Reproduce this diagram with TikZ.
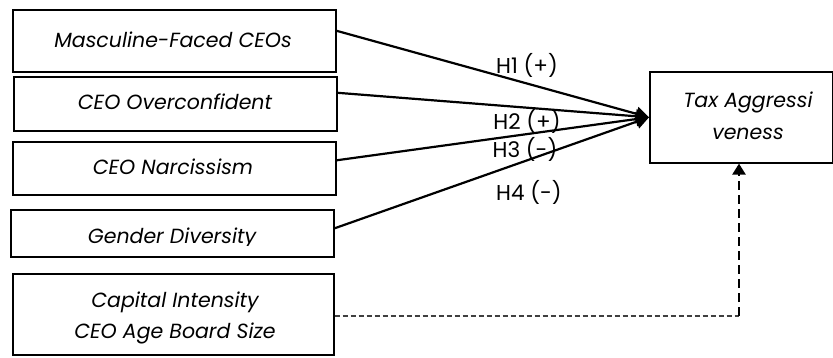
\documentclass[tikz,border=0pt]{standalone}
\usepackage{fontspec}
\setmainfont{Poppins}
\usetikzlibrary{arrows.meta,calc}
\begin{document}
\begin{tikzpicture}[x=1pt,y=-1pt,
  box/.style={draw, line width=1.6pt, inner sep=0pt, anchor=north west},
  lbl/.style={font=\fontsize{20.5}{24}\selectfont\itshape, anchor=base, inner sep=0pt},
  hyp/.style={font=\fontsize{21.5}{24}\selectfont, anchor=base, inner sep=0pt},
  hpath/.style={line width=2.2pt, -{Triangle[length=13pt,width=14pt]}},
  ctrl/.style={line width=1.1pt, dash pattern=on 5pt off 3pt, draw=black!75},
  ctrlup/.style={line width=2.4pt, dash pattern=on 9pt off 5pt, -{Triangle[length=11pt,width=13pt]}}]
\useasboundingbox (0,0) rectangle (833,358);
% boxes
\node[box, minimum width=323pt, minimum height=62pt] (b1) at (12,9) {};
\node[box, minimum width=323pt, minimum height=54pt] (b2) at (13,76) {};
\node[box, minimum width=323pt, minimum height=53pt] (b3) at (12,141) {};
\node[box, minimum width=323pt, minimum height=47pt] (b4) at (10,209) {};
\node[box, minimum width=321pt, minimum height=81pt] (b5) at (12,273) {};
\node[box, minimum width=183pt, minimum height=91pt] (tax) at (649,71) {};
% texts
\node[lbl] (t1) at (173,48) {Masculine-Faced CEOs};
\node[lbl] (t2) at (175,110) {CEO Overconfident};
\node[lbl] (t3) at (173,175) {CEO Narcissism};
\begin{scope}
\clip (0,200) rectangle (400,246);
\node[lbl] (t4) at (172,244) {Gender Diversity};
\end{scope}
\node[lbl] (t5a) at (175,308) {Capital Intensity};
\node[lbl] (t5b) at (175,338) {CEO Age Board Size};
\node[lbl] (t6a) at (748,108) {Tax Aggressi};
\node[lbl] (t6b) at (748,140) {veness};
% hypothesis arrows
\draw[hpath] ($(b1.east)+(0,-10)$) -- (tax.west);
\draw[hpath] ($(b2.east)+(0,-11)$) -- (tax.west);
\draw[hpath] ($(b3.east)+(0,-8)$) -- (tax.west);
\draw[hpath] ($(b4.east)+(0,-5)$) -- (tax.west);
\node[hyp] (h1) at (527,74) {H1 (+)};
\node[hyp] (h2) at (527,130) {H2 (+)};
\node[hyp] (h3) at (525,158) {H3 (-)};
\node[hyp] (h4) at (529,201) {H4 (-)};
% control
\coordinate (corner) at (739,316);
\draw[ctrl] (b5.east |- corner) -- (corner);
\draw[ctrlup] (corner) -- (corner |- tax.south);
\end{tikzpicture}
\end{document}
